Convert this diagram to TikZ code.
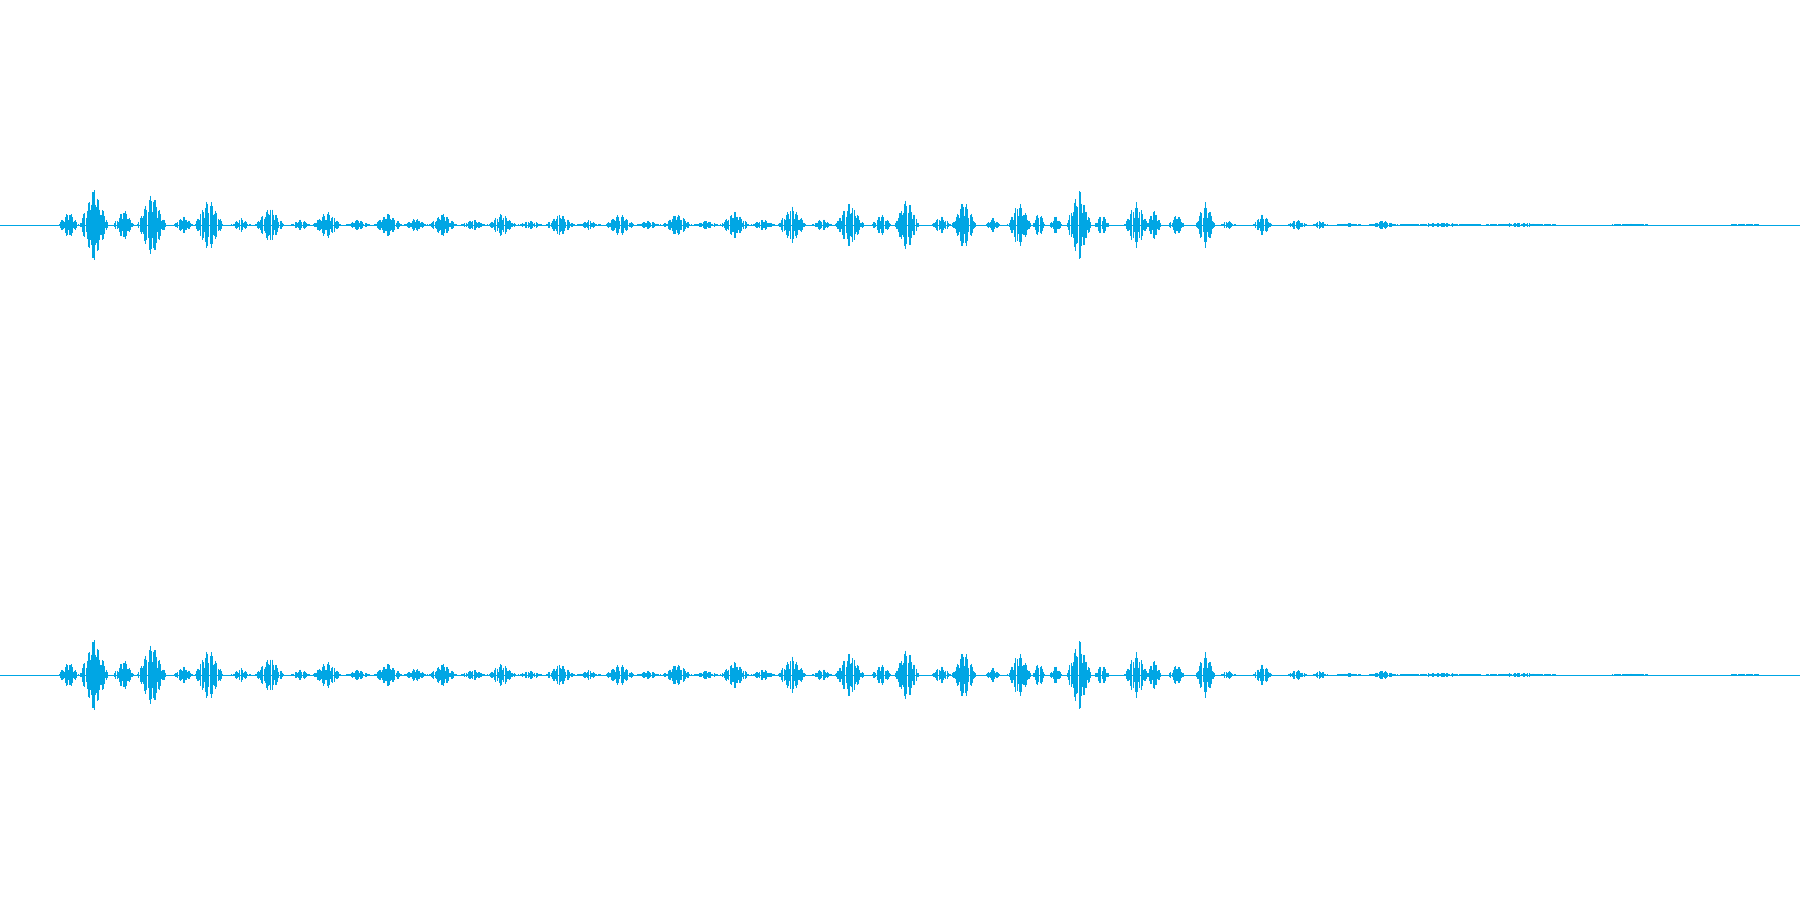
\documentclass[tikz,border=0pt]{standalone}
\definecolor{wave}{RGB}{0,166,228}
\tikzset{wv/.style={draw=wave,line width=0.3pt},base/.style={draw=wave,line width=0.15pt}}
\newcommand{\mywave}[1]{%
  \draw[base] (0,#1) -- (1568,#1);
  \foreach \c/\w/\a in {60/8/12,82/12/32,108/8/14,132/12/28,160/8/8,182/12/24,210/8/6,235/12/16,262/8/5,285/12/12,312/10/5,338/12/10,362/10/6,386/12/10,412/10/5,437/12/10,462/10/4,488/12/10,513/10/4,540/12/10,565/10/4,590/12/10,615/10/4,640/12/12,665/10/5,690/12/16,716/8/6,740/12/20,768/8/10,790/10/24,820/8/8,840/10/22,865/6/6,888/10/20,905/5/12,920/5/8,940/10/32,960/6/10,990/10/20,1005/6/14,1025/6/10,1050/8/20,1070/6/4,1100/8/10,1130/8/5,1150/6/4,1175/10/2,1205/12/4,1255/35/2,1325/30/2,1420/15/1.2,1520/12/1.2}{
    \foreach \d in {-\w,...,\w}{
      \pgfmathsetmacro{\h}{max(0.8,\a*(1-abs(\d)/(\w+1))*(0.35+0.65*abs(sin(\d*137+\c*3))))}
      \draw[wv] (\c+\d,#1-\h) -- (\c+\d,#1+\h);
    }
  }
}
\begin{document}
\begin{tikzpicture}[x=0.011480cm,y=-0.011480cm]
\useasboundingbox (0,0) rectangle (1568,784);
\mywave{196}
\mywave{588}
\end{tikzpicture}
\end{document}
